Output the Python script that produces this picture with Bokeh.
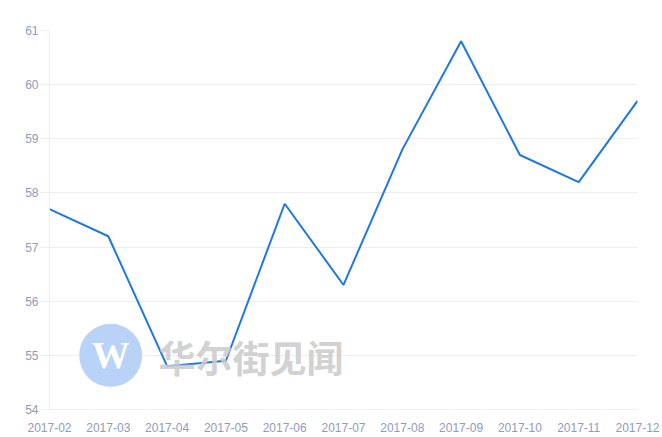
from bokeh.plotting import figure
from bokeh.models import Range1d, FixedTicker, Label
from bokeh.embed import file_html
from bokeh.resources import INLINE

months = ["2017-02", "2017-03", "2017-04", "2017-05", "2017-06", "2017-07",
          "2017-08", "2017-09", "2017-10", "2017-11", "2017-12"]
values = [57.7, 57.2, 54.8, 54.9, 57.8, 56.3, 58.8, 60.8, 58.7, 58.2, 59.7]
y_ticks = [54, 55, 56, 57, 58, 59, 60, 61]

xs = list(range(len(months)))

p = figure(width=662, height=437, output_backend="svg", toolbar_location=None,
           x_range=Range1d(0, len(months) - 1), y_range=Range1d(54, 61),
           min_border_left=49, min_border_right=25, min_border_top=30, min_border_bottom=28)
p.outline_line_color = None
p.background_fill_color = "white"

label_color = "#8f9bbd"
grid_color = "#eeeeee"

# watermark
p.scatter([1.04], [55.0], size=63, color="#b9d3f8", line_color=None)
p.add_layout(Label(x=1.04, y=55.0, text="W", text_color="white", text_font="Liberation Serif",
                   text_font_style="bold", text_font_size="38px", text_align="center",
                   text_baseline="middle"))
p.add_layout(Label(x=158 - 49, y=409 - 356, x_units="screen", y_units="screen", text="华尔街见闻",
                   text_color="#cccccc", text_font="Noto Sans CJK SC", text_font_style="bold",
                   text_font_size="37px", text_baseline="middle", text_alpha=0.9))

p.line(xs, values, line_color="#1f78e2", line_width=2)

p.xaxis.ticker = FixedTicker(ticks=xs)
p.xaxis.major_label_overrides = {i: m for i, m in enumerate(months)}
p.yaxis.ticker = FixedTicker(ticks=y_ticks)

for ax in (p.xaxis, p.yaxis):
    ax.axis_line_color = grid_color
    ax.major_label_text_color = label_color
    ax.major_label_text_font = "Liberation Sans"
    ax.major_label_text_font_size = "12px"
    ax.minor_tick_line_color = None

p.xaxis.major_tick_line_color = None
p.xaxis.major_label_standoff = 7
p.yaxis.major_tick_line_color = grid_color
p.yaxis.major_tick_in = 0
p.yaxis.major_tick_out = 10
p.yaxis.major_label_standoff = 1

p.xgrid.grid_line_color = None
p.ygrid.grid_line_color = grid_color

open("out.html", "w").write(file_html(p, INLINE))
